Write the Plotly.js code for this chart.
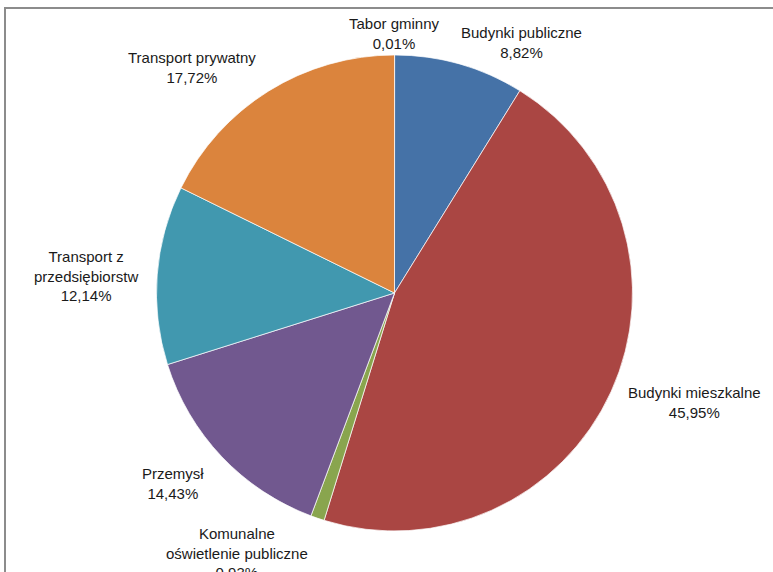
<!DOCTYPE html>
<html>
<head>
<meta charset="utf-8">
<script src="https://cdn.plot.ly/plotly-3.0.1.min.js"></script>
<style>
  html, body { margin: 0; padding: 0; background: #ffffff; overflow: hidden; }
  #wrap { position: relative; width: 773px; height: 572px; overflow: hidden; }
  #frame { position: absolute; left: 4px; top: 7px; width: 900px; height: 700px;
           border-left: 2px solid #8c8c8c; border-top: 2px solid #8c8c8c; }
  #chart { position: absolute; left: 0; top: 0; width: 773px; height: 572px; }
</style>
</head>
<body>
<div id="wrap">
  <div id="frame"></div>
  <div id="chart"></div>
</div>
<script>
// Data (clockwise from 12 o'clock)
const categories = [
  "Tabor gminny",
  "Budynki publiczne",
  "Budynki mieszkalne",
  "Komunalne oświetlenie publiczne",
  "Przemysł",
  "Transport z przedsiębiorstw",
  "Transport prywatny"
];
const shares = [0.01, 8.82, 45.95, 0.93, 14.43, 12.14, 17.72];
const labelLines = [
  "Tabor gminny",
  "Budynki publiczne",
  "Budynki mieszkalne",
  "Komunalne<br>oświetlenie publiczne",
  "Przemysł",
  "Transport z<br>przedsiębiorstw",
  "Transport prywatny"
];

// Styles / layout
const colors = ["#4572A7", "#4572A7", "#AA4643", "#89A54E", "#71588F", "#4198AF", "#DB843D"];
const W = 773, H = 572;
const cx = 394.5, cy = 293, R = 238;
// label centres in pixels
const labelPos = [
  [394.5, 33.5],
  [521, 42],
  [694, 402],
  [237, 553],
  [173, 483],
  [86, 276],
  [192, 68]
];

const fmt = v => v.toFixed(2).replace('.', ',') + '%';

const annotations = categories.map((c, i) => ({
  xref: 'paper', yref: 'paper',
  x: labelPos[i][0] / W, y: 1 - labelPos[i][1] / H,
  xanchor: 'center', yanchor: 'middle',
  text: labelLines[i] + '<br>' + fmt(shares[i]),
  showarrow: false,
  align: 'center',
  font: { family: 'Liberation Sans, Arial, sans-serif', size: 15, color: '#1a1a1a' }
}));

const trace = {
  type: 'pie',
  labels: categories,
  values: shares,
  sort: false,
  direction: 'clockwise',
  rotation: 0,
  marker: { colors: colors, line: { color: '#ffffff', width: 0.7 } },
  textinfo: 'none',
  hoverinfo: 'label+percent',
  showlegend: false,
  domain: {
    x: [(cx - R) / W, (cx + R) / W],
    y: [1 - (cy + R) / H, 1 - (cy - R) / H]
  }
};

const layout = {
  width: W, height: H,
  margin: { l: 0, r: 0, t: 0, b: 0 },
  paper_bgcolor: 'rgba(0,0,0,0)',
  plot_bgcolor: 'rgba(0,0,0,0)',
  showlegend: false,
  annotations: annotations
};

Plotly.newPlot('chart', [trace], layout, { displayModeBar: false, staticPlot: true });
</script>
</body>
</html>
